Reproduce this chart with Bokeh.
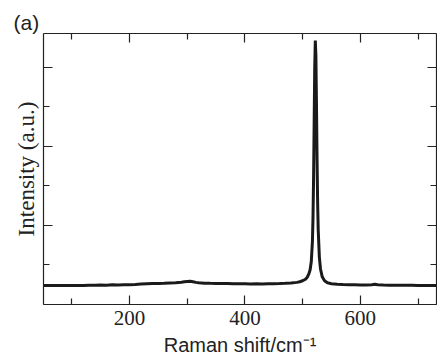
from bokeh.plotting import figure
from bokeh.models import FixedTicker, LinearAxis, ColumnDataSource
from bokeh.embed import file_html
from bokeh.resources import INLINE

# Raman spectrum
raman_shift = [50, 60, 70, 80, 90, 100, 110, 120, 130, 140, 150, 160, 170, 180, 190,
               200, 210, 220, 230, 240, 250, 260, 270, 280, 290, 295, 300, 305, 310, 315,
               320, 330, 340, 350, 360, 370, 380, 390, 400, 410, 420, 430, 440, 450, 460,
               470, 480, 490, 495, 500, 505, 508, 511, 513, 515, 517, 518, 519, 520, 521,
               522, 523, 524, 525, 526, 527, 529, 531, 534, 538, 543, 550, 560, 570, 580,
               590, 600, 610, 620, 625, 630, 640, 650, 660, 670, 680, 690, 700, 710, 720, 732]
intensity = [0.240, 0.240, 0.242, 0.240, 0.241, 0.240, 0.242, 0.241, 0.245, 0.243, 0.248, 0.244,
             0.250, 0.246, 0.251, 0.249, 0.252, 0.258, 0.262, 0.265, 0.267, 0.268, 0.272, 0.276,
             0.282, 0.288, 0.292, 0.295, 0.288, 0.280, 0.275, 0.270, 0.268, 0.267, 0.265, 0.266,
             0.262, 0.263, 0.262, 0.260, 0.262, 0.261, 0.262, 0.263, 0.265, 0.268, 0.272, 0.280,
             0.288, 0.300, 0.320, 0.345, 0.390, 0.440, 0.540, 0.800, 1.10, 1.60, 2.30, 3.00,
             3.34, 3.15, 2.55, 1.85, 1.30, 0.95, 0.60, 0.45, 0.35, 0.30, 0.275, 0.262, 0.255,
             0.252, 0.250, 0.249, 0.248, 0.247, 0.250, 0.256, 0.249, 0.246, 0.245, 0.244, 0.244,
             0.243, 0.243, 0.242, 0.241, 0.240, 0.240]

x_major = [200, 400, 600]
x_minor = [100, 300, 500, 700]
y_major = [0, 1, 2, 3]
y_minor = [0.5, 1.5, 2.5]

src = ColumnDataSource(dict(x=raman_shift, y=intensity))

p = figure(width=437, height=358, x_range=(51, 732), y_range=(0, 3.43),
           output_backend="svg", toolbar_location=None,
           min_border_left=43, min_border_top=33, min_border_right=1, min_border_bottom=10)
p.outline_line_color = None
p.grid.visible = False
p.background_fill_color = "white"
p.border_fill_color = "white"

p.line("x", "y", source=src, line_color="#1a1a1a", line_width=3)

axis_color = "#222222"

def style(ax, ticks, minors, labels=True):
    ax.ticker = FixedTicker(ticks=ticks, minor_ticks=minors)
    ax.axis_line_color = axis_color
    ax.axis_line_width = 1.2
    ax.major_tick_line_color = axis_color
    ax.minor_tick_line_color = axis_color
    ax.major_tick_in = 9
    ax.major_tick_out = 0
    ax.minor_tick_in = 6
    ax.minor_tick_out = 0
    ax.major_tick_line_width = 1.2
    ax.minor_tick_line_width = 1.2
    if not labels:
        ax.major_label_text_font_size = "0px"
        ax.major_label_text_color = None
        ax.major_label_standoff = 0

# bottom
xb = p.xaxis[0]
style(xb, x_major, x_minor)
xb.major_label_text_font = "Liberation Serif"
xb.major_label_text_font_size = "21px"
xb.major_label_text_color = "#222222"
xb.major_label_standoff = 6
xb.axis_label = "Raman shift/cm\u207b\u00b9"
xb.axis_label_text_font = "Liberation Sans"
xb.axis_label_text_font_size = "20px"
xb.axis_label_text_font_style = "normal"
xb.axis_label_text_color = "#222222"
xb.axis_label_standoff = 6

# left
yl = p.yaxis[0]
style(yl, y_major, y_minor, labels=False)
yl.axis_label = "Intensity (a.u.)"
yl.axis_label_text_font = "Liberation Serif"
yl.axis_label_text_font_size = "23px"
yl.axis_label_text_font_style = "normal"
yl.axis_label_text_color = "#222222"
yl.axis_label_standoff = 5

# top
xt = LinearAxis()
style(xt, x_major, x_minor, labels=False)
p.add_layout(xt, "above")

# right
yr = LinearAxis()
style(yr, y_major, y_minor, labels=False)
p.add_layout(yr, "right")

# panel tag
p.title.text = "(a)"
p.title.text_font = "Liberation Sans"
p.title.text_font_size = "21px"
p.title.text_font_style = "normal"
p.title.text_color = "#222222"
p.title.align = "left"
p.title.offset = -30
p.title.standoff = 0

open("out.html", "w").write(file_html(p, INLINE))
